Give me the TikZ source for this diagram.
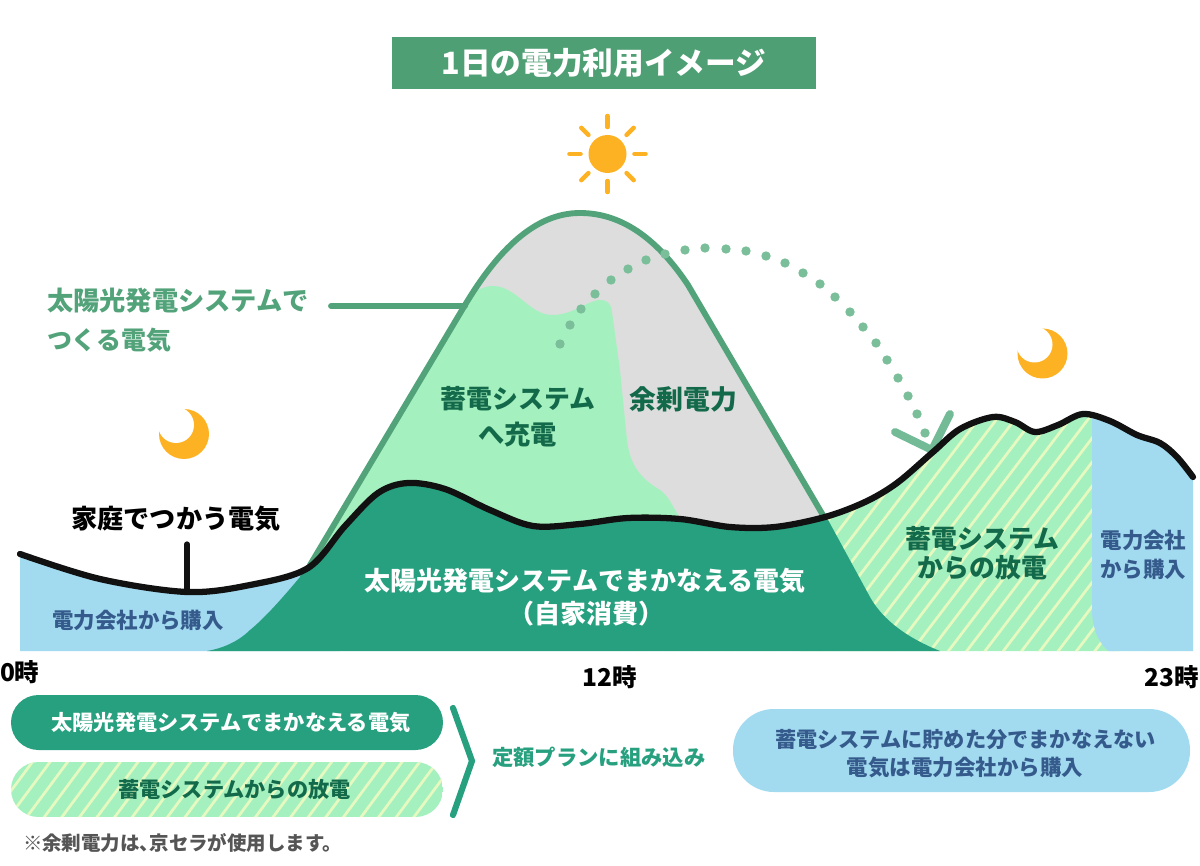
\documentclass[tikz,border=0pt]{standalone}
\usepackage{fontspec}
\usetikzlibrary{calc}
\setmainfont{Noto Sans CJK JP}
\definecolor{titlegreen}{HTML}{4F9F74}
\definecolor{outlinegreen}{HTML}{52A37A}
\definecolor{deepgreen}{HTML}{27A07F}
\definecolor{palegreen}{HTML}{A5F0BF}
\definecolor{stripeyellow}{HTML}{E6F9C0}
\definecolor{massgray}{HTML}{DDDDDD}
\definecolor{skyblue}{HTML}{A2DAF0}
\definecolor{sunorange}{HTML}{FDB224}
\definecolor{dotgreen}{HTML}{7BBF9A}
\definecolor{tickgreen}{HTML}{72BB96}
\definecolor{inkgreen}{HTML}{136A4A}
\definecolor{inkblue}{HTML}{355A8C}
\definecolor{inkblack}{HTML}{111111}
\definecolor{noteGray}{HTML}{555555}
\newcommand\fpt[1]{\bfseries\fontsize{#1pt}{#1pt}\selectfont}
\tikzset{
  x=0.75pt,y=-0.75pt,
  txt/.style={inner sep=0pt,outer sep=0pt,align=center,font=\fpt{19.4}},
  txtmid/.style={txt,font=\fpt{15.9}},
  txthour/.style={txt,text=black,font=\fpt{18.4}},
  ray/.style={draw=sunorange,line width=3.4pt,line cap=round},
  stripe/.style={draw=stripeyellow,line width=2.05pt},
  outline/.style={draw=outlinegreen,line width=4.4pt,line cap=round,line join=round},
  loadstroke/.style={draw=inkblack,line width=4.7pt,line cap=round,line join=round},
  stemstroke/.style={draw=inkblack,line width=3.9pt,line cap=round},
  pdot/.style={fill=dotgreen,draw=none},
}
\def\loadline{plot[smooth,tension=0.55] coordinates {(20,554) (100,579) (187,592) (250,585) (308,568) (345,526) (378,493) (408,483) (445,489) (490,510) (533,526) (580,524) (628,518) (680,519) (730,527) (775,527) (825,517) (865,502) (897,483) (933,452) (960,429) (993,417) (1015,422) (1035,432) (1058,425) (1083,414) (1110,421) (1137,435) (1160,443) (1177,457) (1193,477)}}
\begin{document}
\begin{tikzpicture}
\useasboundingbox (0,0) rectangle (1200,866);
% title
\node[fill=titlegreen,minimum width=318pt,minimum height=39pt,inner sep=0pt,anchor=center] (titlebar) at (604,63) {};
\node[txt,text=white,font=\fpt{23}] (title) at (604,63) {1日の電力利用イメージ};
% sun
\fill[sunorange] (607.5,154) circle[radius=19];
\foreach \a in {0,90,180,270}{\draw[ray] ($(607.5,154)+(\a:27)$) -- ($(607.5,154)+(\a:38)$);}
\foreach \a in {45,135,225,315}{\draw[ray] ($(607.5,154)+(\a:27)$) -- ($(607.5,154)+(\a:37)$);}
% moons
\fill[sunorange] (184,434) circle[radius=25];
\fill[white] (176,425) circle[radius=18];
\fill[sunorange] (1042.5,353.5) circle[radius=25];
\fill[white] (1034.5,344.5) circle[radius=18];
% mountain
\def\mountain{(310,565) -- (465,305) .. controls (498,250) and (535,213) .. (580,213) .. controls (625,213) and (660,243) .. (688,285) -- (827,522)}
\fill[massgray] \mountain -- cycle;
\begin{scope}
\clip \mountain -- cycle;
\fill[palegreen] (300,570) -- (455,300) .. controls (470,296) and (482,285) .. (494,286) .. controls (517,287) and (530,315) .. (552,315) .. controls (575,315) and (590,298) .. (603,300) .. controls (609,301) and (612,307) .. (612,312) -- (620,370) -- (627,440) .. controls (630,465) and (640,478) .. (660,490) .. controls (668,495) and (672,505) .. (682,522) -- (682,600) -- (300,600) -- cycle;
\end{scope}
\draw[outline] \mountain;
% label line
\coordinate (lineA) at (331,306);
\coordinate (lineB) at (465,306);
\draw[outline] (lineA) -- (lineB);
% arrow dots
\foreach \p in {(560,344),(570,325),(581,309),(595,294),(611,280),(628,269),(646,260),(665,254),(685,250),(705,248),(726,249),(746,251),(766,256),(785,263),(803,273),(820,284),(835,297),(850,312),(863,327),(876,343),(887,360),(898,378),(908,396),(917,414),(925,433)}{\fill[pdot] \p circle[radius=4.7];}
\coordinate (tickA) at (895,432);
\coordinate (tickB) at (932,450);
\coordinate (tickC) at (950,414);
\draw[draw=tickgreen,line width=5.9pt,line cap=round,line join=round] (tickA) -- (tickB) -- (tickC);
% areas under the load curve
\begin{scope}
\clip \loadline -- (1193,651) -- (20,651) -- cycle;
\fill[skyblue] (15,530) rectangle (340,655);
\fill[palegreen] (800,400) rectangle (1120,655);
\foreach \c in {810,828.3,...,1420}{\draw[stripe] (\c,400) -- ({\c-194},655);}
\fill[skyblue] (1092,400) -- (1200,400) -- (1200,655) -- (1116,655) .. controls (1101,650) and (1092,630) .. (1092,610) -- cycle;
\fill[deepgreen] (207,651) .. controls (225,648) and (240,640) .. (250,630) .. controls (265,618) and (285,595) .. (300,577) -- (330,480) -- (815,480) -- (827,518) -- (870,597) .. controls (880,615) and (900,635) .. (940,651) -- (940,660) -- (207,660) -- cycle;
\end{scope}
\draw[loadstroke] \loadline;
\coordinate (stemT) at (187,544);
\coordinate (stemB) at (187,592);
\draw[stemstroke] (stemT) -- (stemB);
% chart labels
\node[txt,text=outlinegreen,anchor=west,font=\fpt{19.7}] (solar1) at (47,301) {太陽光発電システムで};
\node[txt,text=outlinegreen,anchor=west,font=\fpt{18.7}] (solar2) at (47,340) {つくる電気};
\node[txt,text=inkgreen] (charge1) at (518,399) {蓄電システム};
\node[txt,text=inkgreen,font=\fpt{19.7}] (charge2) at (517.5,435) {へ充電};
\node[txt,text=inkgreen,font=\fpt{20.1}] (surplus) at (683.5,399) {余剰電力};
\node[txt,text=black,font=\fpt{19.6}] (house) at (176,519) {家庭でつかう電気};
\node[txt,text=white,font=\fpt{19.5}] (self1) at (585,581) {太陽光発電システムでまかなえる電気};
\node[txt,text=white,font=\fpt{19.5}] (self2) at (586,614) {（自家消費）};
\node[txt,text=inkgreen] (dis1) at (982.5,539) {蓄電システム};
\node[txt,text=inkgreen] (dis2) at (982.5,568) {からの放電};
\node[txtmid,text=inkblue,font=\fpt{16.1}] (buyL) at (138,620) {電力会社から購入};
\node[txtmid,text=inkblue,font=\fpt{16.1}] (buyR1) at (1143.5,540) {電力会社};
\node[txtmid,text=inkblue,font=\fpt{16.1}] (buyR2) at (1143,569) {から購入};
\node[txthour,anchor=west] (h0) at (0,672) {0時};
\node[txthour] (h12) at (609.5,677) {12時};
\node[txthour,anchor=east] (h23) at (1199,677) {23時};
% legend
\fill[deepgreen,rounded corners=20.6pt] (11,695) rectangle (443,750);
\node[txtmid,text=white] (leg1) at (231,723) {太陽光発電システムでまかなえる電気};
\begin{scope}
\clip[rounded corners=20.6pt] (11,762) rectangle (443,817);
\fill[palegreen] (11,762) rectangle (443,817);
\foreach \c in {20,37.6,...,500}{\draw[stripe] (\c,755) -- ({\c-52},825);}
\end{scope}
\node[txtmid,text=inkgreen] (leg2) at (234.5,789) {蓄電システムからの放電};
\coordinate (chevA) at (453,708);
\coordinate (chevB) at (472,761);
\coordinate (chevC) at (453,815);
\draw[draw=deepgreen,line width=4.6pt,line cap=round,line join=miter] (chevA) -- (chevB) -- (chevC);
\node[txtmid,text=deepgreen,anchor=west,font=\fpt{16}] (plan) at (492,757) {定額プランに組み込み};
\fill[skyblue,rounded corners=30.7pt] (733,709) rectangle (1190,792);
\node[txtmid,text=inkblue] (rp1) at (965.5,740) {蓄電システムに貯めた分でまかなえない};
\node[txtmid,text=inkblue,font=\fpt{16.1}] (rp2) at (965,767) {電気は電力会社から購入};
\node[txt,text=noteGray,anchor=west,font=\fpt{14.6}] (note) at (23,843) {※余剰電力は、\hspace{-0.5em}京セラが使用します。};
\end{tikzpicture}
\end{document}
